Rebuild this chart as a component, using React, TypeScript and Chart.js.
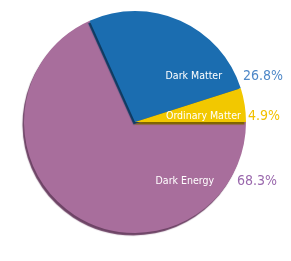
import React, { useEffect, useRef } from "react";
import { Chart, registerables } from "chart.js";

Chart.register(...registerables);

const categories = ["Dark Energy", "Dark Matter", "Ordinary Matter"];
const shares = [68.3, 26.8, 4.9];
const percentLabels = ["68.3%", "26.8%", "4.9%"];
const sliceColors = ["#A86E9C", "#1B6DB0", "#F2C800"];
const shadowColors = ["#6E4466", "#0E3B62", "#7E6400"];
const percentColors = ["#9A68AD", "#4F88C8", "#F2C100"];

// label layout, in units of the pie radius relative to its centre
const labelLayout = [
  { dy: 0.532, innerEnd: 0.712, outerStart: 0.919 },
  { dy: -0.41, innerEnd: 0.784, outerStart: 0.973 },
  { dy: -0.052, innerEnd: 0.955, outerStart: 1.018 },
];

const FONT = "'Liberation Sans Narrow', 'DejaVu Sans Condensed', 'Arial Narrow', sans-serif";

const shadowArcs = {
  id: "shadowArcs",
  beforeDatasetDraw(chart: any, args: any) {
    const ctx = chart.ctx;
    const meta = args.meta;
    meta.data.forEach((arc: any, i: number) => {
      ctx.save();
      ctx.shadowColor = shadowColors[i];
      ctx.shadowOffsetX = -1.5;
      ctx.shadowOffsetY = 2.5;
      ctx.shadowBlur = 1;
      arc.draw(ctx, chart.chartArea);
      ctx.restore();
    });
    return false;
  },
};

const sliceLabels = {
  id: "sliceLabels",
  afterDatasetsDraw(chart: any) {
    const ctx = chart.ctx;
    const meta = chart.getDatasetMeta(0);
    meta.data.forEach((arc: any, i: number) => {
      const { x, y, outerRadius } = arc.getProps(["x", "y", "outerRadius"], true);
      const lay = labelLayout[i];
      const ty = y + lay.dy * outerRadius;
      ctx.save();
      ctx.textBaseline = "middle";
      ctx.font = `10.5px ${FONT}`;
      ctx.fillStyle = "#FFFFFF";
      ctx.textAlign = "right";
      ctx.fillText(categories[i], x + lay.innerEnd * outerRadius, ty);
      ctx.font = `14px ${FONT}`;
      ctx.fillStyle = percentColors[i];
      ctx.textAlign = "left";
      ctx.fillText(percentLabels[i], x + lay.outerStart * outerRadius, ty);
      ctx.restore();
    });
  },
};

export default function App() {
  const ref = useRef<HTMLCanvasElement>(null);
  useEffect(() => {
    if (!ref.current) return;
    const chart = new Chart(ref.current, {
      type: "pie",
      data: {
        labels: categories,
        datasets: [
          {
            data: shares,
            backgroundColor: sliceColors,
            borderWidth: 0,
            hoverOffset: 0,
          },
        ],
      },
      options: {
        responsive: false,
        animation: false,
        rotation: 90,
        layout: { padding: { left: 24, right: 45, top: 11, bottom: 28 } },
        plugins: {
          legend: { display: false },
          tooltip: { enabled: false },
        },
        events: [],
      },
      plugins: [shadowArcs, sliceLabels],
    });
    return () => chart.destroy();
  }, []);
  return (
    <div style={{ position: "fixed", left: 0, top: 0, width: 291, height: 261, background: "#fff" }}>
      <canvas ref={ref} width={291} height={261} style={{ display: "block" }} />
    </div>
  );
}
